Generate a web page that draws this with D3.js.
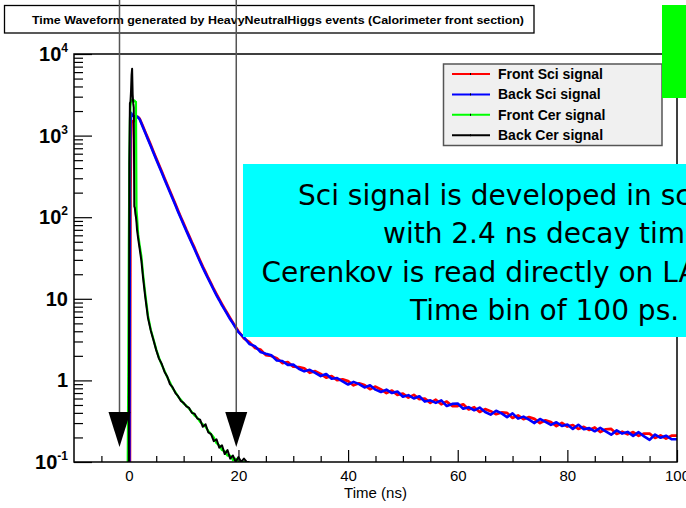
<!DOCTYPE html>
<html><head><meta charset="utf-8">
<script src="https://cdn.jsdelivr.net/npm/d3@7"></script>
<style>
html,body{margin:0;padding:0;background:#fff;}
svg{display:block;}
</style></head>
<body><svg id="c" width="686" height="508"></svg>
<script>
// ---------------- data ----------------
const titleText = "Time Waveform generated by HeavyNeutralHiggs events (Calorimeter front section)";
const xTitle = "Time (ns)";
const xMajorTicks = [0, 20, 40, 60, 80, 100];
const xMinorTicks = [-5, 5, 10, 15, 25, 30, 35, 45, 50, 55, 65, 70, 75, 85, 90, 95];
const yMajorTicks = [0.1, 1, 10, 100, 1000, 10000];
const yTickLabels = [["10","-1"],["1",""],["10",""],["10","2"],["10","3"],["10","4"]];
const legendLabels = ["Front Sci signal","Back Sci signal","Front Cer signal","Back Cer signal"];
const seriesColors = ["#ff0000","#0000ff","#00ff00","#000000"];
const noteLines = ["Sci signal is developed in scintillator","with 2.4 ns decay time","Cerenkov is read directly on LAPPD","Time bin of 100 ps."];
const arrowTimes = [-1.7, 19.6];

// Scintillator samples (ns)
const sciT = [-0.1,0.1,0.2,0.3,0.4,0.5,0.6,0.8,1.0,1.2,1.4,1.6,1.8,2.0,
 2.5,3.0,3.5,4.0,4.5,5.0,5.5,6.0,6.5,7.0,7.5,8.0,8.5,9.0,9.5,10.0,10.5,11.0,11.5,12.0,12.5,13.0,13.5,14.0,14.5,15.0,15.5,16.0,16.5,17.0,17.5,18.0,18.5,19.0,19.5,20.0,
 21,22,23,24,25,26,27,28,29,30,31,32,33,34,35,36,37,38,39,40,41,42,43,44,45,46,47,48,49,50,
 51,52,53,54,55,56,57,58,59,60,61,62,63,64,65,66,67,68,69,70,71,72,73,74,75,76,77,78,79,80,
 81,82,83,84,85,86,87,88,89,90,91,92,93,94,95,96,97,98,99];
const frontSci = [0,0,0,200,900,1450,1500,1480,1550,1650,1700,1700,1660,1600,
 1340,1110,925,770,635,528,440,365,302,252,209,174,145,120,100,84,70,59,49.5,42,35,29.5,24.8,21.2,18,15.5,13.2,11.4,9.9,8.6,7.5,6.6,5.8,5.1,4.5,4.0,
 3.27,2.94,2.5,2.39,2.04,1.99,1.87,1.63,1.68,1.47,1.46,1.41,1.24,1.30,1.20,1.08,1.13,1.01,1.03,0.98,0.87,0.92,0.875,0.78,0.84,0.775,0.70,0.75,0.665,0.69,
 0.615,0.665,0.59,0.60,0.53,0.58,0.51,0.55,0.485,0.485,0.51,0.44,0.47,0.41,0.445,0.42,0.385,0.405,0.40,0.347,0.373,0.335,0.355,0.338,0.30,0.325,0.309,0.275,0.302,0.272,
 0.284,0.254,0.27,0.247,0.265,0.233,0.252,0.254,0.221,0.235,0.218,0.233,0.209,0.223,0.223,0.197,0.212,0.194,0.21];
const backSci = [0,0,320,1350,1900,1850,1780,1740,1720,1740,1720,1690,1640,1570,
 1300,1080,895,745,615,510,425,352,292,243,202,168,140,116,97,81,68,57,48,40.5,34,28.5,24,20.5,17.5,15,12.8,11,9.6,8.3,7.3,6.4,5.6,5.0,4.4,3.9,
 3.37,2.79,2.63,2.23,2.12,2.03,1.75,1.73,1.55,1.56,1.39,1.29,1.35,1.24,1.13,1.20,1.05,1.07,0.97,0.89,0.96,0.90,0.82,0.87,0.77,0.72,0.77,0.70,0.73,0.63,
 0.66,0.60,0.64,0.55,0.57,0.53,0.57,0.485,0.515,0.52,0.45,0.47,0.43,0.465,0.41,0.38,0.425,0.395,0.355,0.395,0.34,0.36,0.33,0.30,0.337,0.31,0.285,0.307,0.276,0.288,
 0.254,0.286,0.252,0.26,0.238,0.262,0.238,0.216,0.244,0.223,0.234,0.209,0.232,0.206,0.187,0.217,0.198,0.21,0.19];

// Cerenkov samples (ns)
const cerT = [-0.2,-0.1,0.0,0.1,0.2,0.3,0.4,0.5,0.6,0.7,0.8,0.9,1.0,1.1,1.2,1.3,1.4,1.5,1.7,2.0,2.3,2.6,
 3.0,3.5,4.0,4.5,5.0,5.5,6.0,6.5,7.0,7.5,8.0,8.5,9.0,9.5,10.0,10.5,11.0,11.5,12.0,12.5,13.0,13.5,14.0,14.5,15.0,15.5,16.0,16.5,17.0,17.5,18.0,18.5,19.0,19.5,20.0,20.5,21.0,21.5];
const frontCer = [0,1.2,45,420,1500,2300,2600,2700,2750,2700,2700,2650,2700,2650,2600,2600,123,100,62,44,33,20,
 11.5,6.2,4.2,3.2,2.4,1.9,1.55,1.32,1.1,0.95,0.8,0.72,0.63,0.58,0.52,0.49,0.45,0.41,0.37,0.35,0.31,0.29,0.27,0.24,0.22,0.2,0.17,0.16,0.14,0.135,0.12,0.12,0.105,0.11,0,0,0,0];
const backCer = [0,0,0,450,2500,2600,3500,5500,6600,3200,2500,2200,136,130,110,100,86,70,55,40,29,18,
 10.5,5.8,4.1,3.1,2.35,1.85,1.6,1.28,1.12,0.9,0.82,0.70,0.64,0.56,0.53,0.48,0.46,0.40,0.39,0.34,0.33,0.27,0.29,0.23,0.22,0.18,0.19,0.15,0.16,0.125,0.14,0.11,0.12,0.1,0.115,0.1,0.11,0];

// ---------------- chart ----------------
const FONT = '"Liberation Sans",Arial,Helvetica,sans-serif';
const svg = d3.select("#c").style("font-family", FONT);
svg.append("rect").attr("width",686).attr("height",508).attr("fill","#fff");

const x = d3.scaleLinear().domain([-10, 100]).range([74, 677]);
const y = d3.scaleLog().domain([0.1, 10000]).range([462, 54]);

svg.append("clipPath").attr("id","plotclip").append("rect")
  .attr("x", x(-10)).attr("y", y(10000)).attr("width", x(100)-x(-10)).attr("height", y(0.1)-y(10000));

const line = d3.line().x(d=>x(d[0])).y(d=>y(Math.max(d[1],0.1))).curve(d3.curveLinear);
function pts(T, V, tEnd, vEnd){
  const p = T.map((t,i)=>[t, V[i]]);
  p.push([tEnd, vEnd]);
  return p;
}
const series = [
  pts(sciT, frontSci, 100, frontSci[frontSci.length-1]),
  pts(sciT, backSci, 100, backSci[backSci.length-1]),
  pts(cerT, frontCer, 22, 0),
  pts(cerT, backCer, 22, 0)
];
const widths = [2.7, 2.6, 2.2, 2];
const gS = svg.append("g").attr("clip-path","url(#plotclip)");
series.forEach((s,i)=>{
  gS.append("path").attr("d", line(s)).attr("fill","none")
    .attr("stroke", seriesColors[i]).attr("stroke-width", widths[i]).attr("stroke-linejoin","round");
});

// frame
svg.append("rect").attr("x", x(-10)).attr("y", y(10000)).attr("width", x(100)-x(-10)).attr("height", y(0.1)-y(10000))
  .attr("fill","none").attr("stroke","#000").attr("stroke-width",1.5);

// x axis
const gx = svg.append("g").attr("transform",`translate(0,${y(0.1)})`);
gx.call(d3.axisBottom(x).tickValues(xMajorTicks).tickSize(-12).tickSizeOuter(0).tickPadding(8).tickFormat(d3.format("d")));
const gx2 = svg.append("g").attr("transform",`translate(0,${y(0.1)})`);
gx2.call(d3.axisBottom(x).tickValues(xMinorTicks).tickSize(-6).tickSizeOuter(0).tickFormat(""));
[gx,gx2].forEach(g=>{
  g.select(".domain").remove();
  g.selectAll(".tick line").attr("stroke","#000").attr("stroke-width",1.2);
});
gx.selectAll(".tick text").attr("fill","#000").style("font-family",FONT).style("font-size","15px");

svg.append("text").attr("x",(x(-10)+x(100))/2).attr("y",498).attr("text-anchor","middle")
  .style("font-size","15px").text(xTitle);

// y axis
const yMinor = [];
for (let e=-1;e<4;e++){ for (let m=2;m<10;m++){ yMinor.push(m*Math.pow(10,e)); } }
const gy = svg.append("g").attr("transform",`translate(${x(-10)},0)`);
gy.call(d3.axisLeft(y).tickValues(yMajorTicks).tickSize(-18).tickSizeOuter(0).tickFormat(""));
const gy2 = svg.append("g").attr("transform",`translate(${x(-10)},0)`);
gy2.call(d3.axisLeft(y).tickValues(yMinor).tickSize(-9).tickSizeOuter(0).tickFormat(""));
[gy,gy2].forEach(g=>{
  g.select(".domain").remove();
  g.selectAll(".tick line").attr("stroke","#000").attr("stroke-width",1.2);
});
yMajorTicks.forEach((v,i)=>{
  const t = svg.append("text").attr("x", 68).attr("y", y(v)+7).attr("text-anchor","end")
    .style("font-size","20px").style("font-weight","bold");
  t.append("tspan").text(yTickLabels[i][0]);
  if (yTickLabels[i][1]) t.append("tspan").style("font-size","12px").attr("dy",-9).text(yTickLabels[i][1]);
});

// legend
const lg = svg.append("g");
lg.append("rect").attr("x",443.5).attr("y",64).attr("width",218.5).attr("height",81.5)
  .attr("fill","#f0f0f0").attr("stroke","#555").attr("stroke-width",1.5);
legendLabels.forEach((lab,i)=>{
  const cy = 74 + i*20.4;
  lg.append("line").attr("x1",452).attr("x2",490).attr("y1",cy).attr("y2",cy)
    .attr("stroke",seriesColors[i]).attr("stroke-width",2);
  lg.append("rect").attr("x",470).attr("y",cy-1).attr("width",1).attr("height",2).attr("fill","#000");
  lg.append("text").attr("x",498).attr("y",cy+5).style("font-size","14px").style("font-weight","bold").text(lab);
});

// cyan note box
svg.append("rect").attr("x",243).attr("y",164).attr("width",460).attr("height",173).attr("fill","#00ffff");
const noteX = [298, 383, 261.5, 410];
noteLines.forEach((s,i)=>{
  svg.append("text").attr("x",noteX[i]).attr("y",205 + i*38.3)
    .style("font-family",'"DejaVu Sans",sans-serif').style("font-size","28px").attr("fill","#000").text(s);
});

// green box
svg.append("rect").attr("x",662).attr("y",5).attr("width",30).attr("height",93).attr("fill","#00ff00");

// title box
svg.append("rect").attr("x",4.5).attr("y",5.5).attr("width",529.5).attr("height",27.5)
  .attr("fill","#fff").attr("stroke","#000").attr("stroke-width",1.3);
svg.append("text").attr("x",32).attr("y",23.5).style("font-size","11.5px").style("font-weight","bold")
  .attr("textLength",492).attr("lengthAdjust","spacingAndGlyphs").text(titleText);

// vertical marker lines and arrows
arrowTimes.forEach(t=>{
  const ax = x(t);
  svg.append("line").attr("x1",ax).attr("x2",ax).attr("y1",0).attr("y2",420)
    .attr("stroke","#555").attr("stroke-width",1.5);
  svg.append("path").attr("d",`M${ax-11},412 L${ax+11},412 L${ax},447 Z`).attr("fill","#000");
});
</script>
</body></html>
